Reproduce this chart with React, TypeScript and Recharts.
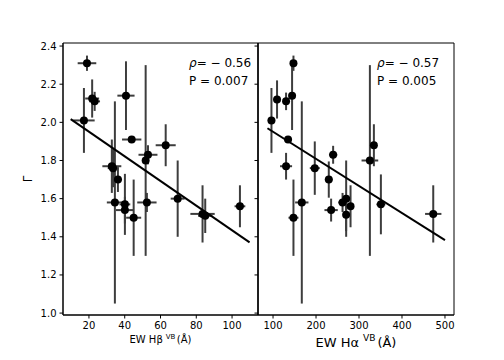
import React from 'react';
import { ScatterChart, Scatter, XAxis, YAxis, ErrorBar, ReferenceArea, Label } from 'recharts';

// left panel: EW Hβ(VB) vs photon index
const hbEw = [18.9, 21.8, 23.2, 17.2, 40.7, 43.9, 62.9, 53.0, 51.7, 32.8, 33.5, 36.2, 34.5, 40.1, 40.1, 45.0, 52.4, 69.6, 83.5, 85.0, 104.4];
const hbGamma = [2.31, 2.125, 2.11, 2.01, 2.14, 1.91, 1.88, 1.83, 1.80, 1.77, 1.76, 1.70, 1.58, 1.57, 1.54, 1.50, 1.58, 1.60, 1.52, 1.51, 1.56];
const hbEwErr = [5.2, 3.9, 3.0, 6.0, 4.8, 5.4, 5.6, 5.3, 1.5, 5.3, 3.0, 2.3, 4.5, 3.0, 5.0, 4.2, 5.4, 3.9, 6.8, 4.0, 3.0];
const hbGammaErr = [0.04, 0.1, 0.05, 0.17, 0.18, 0.0, 0.11, 0.05, 0.5, 0.14, 0.1, 0.065, 0.53, 0.16, 0.07, 0.2, 0.05, 0.2, 0.15, 0.09, 0.11];

// right panel: EW Hα(VB) vs photon index
const haEw = [147.5, 96.3, 109.3, 130.3, 144.3, 134.9, 166.9, 130.3, 147.5, 197.1, 239.8, 229.7, 325.3, 334.6, 235.1, 261.7, 270.1, 270.0, 280.3, 350.9, 472.7];
const haGamma = [2.31, 2.01, 2.12, 2.11, 2.14, 1.91, 1.58, 1.77, 1.50, 1.76, 1.83, 1.70, 1.80, 1.88, 1.54, 1.58, 1.60, 1.515, 1.56, 1.57, 1.52];
const haEwErr = [3, 8.5, 8, 7, 4, 9, 15.5, 14, 11.6, 11.6, 9.7, 9, 19.4, 7, 15.5, 10, 4, 4, 7, 10.5, 19];
const haGammaErr = [0.04, 0.17, 0.1, 0.046, 0.18, 0.0, 0.53, 0.07, 0.2, 0.14, 0.047, 0.095, 0.5, 0.11, 0.06, 0.05, 0.2, 0.085, 0.11, 0.157, 0.15];

// regression lines (end points)
const hbFitX = [9.8, 109.8];
const hbFitY = [2.017, 1.371];
const haFitX = [87, 500];
const haFitY = [1.969, 1.383];

const hbTicks = [20, 40, 60, 80, 100];
const haTicks = [100, 200, 300, 400, 500];
const gammaTicks = [1.0, 1.2, 1.4, 1.6, 1.8, 2.0, 2.2, 2.4];

const hbDomain = [5.5, 114.5];
const haDomain = [65, 521];
const gammaDomain = [0.99, 2.416];

const FONT = 'DejaVu Sans';
const ERR = '#3d3d3d';

const toPoints = (xs: number[], ys: number[], ex?: number[], ey?: number[]) =>
  xs.map((x, i) => ({ x, y: ys[i], ex: ex ? ex[i] : 0, ey: ey ? ey[i] : 0 }));

const hbData = toPoints(hbEw, hbGamma, hbEwErr, hbGammaErr);
const haData = toPoints(haEw, haGamma, haEwErr, haGammaErr);
const hbFit = toPoints(hbFitX, hbFitY);
const haFit = toPoints(haFitX, haFitY);

const dot = (p: any) => <circle cx={p.cx} cy={p.cy} r={4} fill="#000" />;
const noDot = () => <g />;

const tickStyle = { fontSize: 10, fontFamily: FONT, fill: '#000' };

const statText = (rho: string, p: string, dx: number) => (props: any) => {
  const vb = props.viewBox;
  return (
    <g fontFamily={FONT} fontSize={12} fill="#000">
      <text x={vb.x + dx} y={vb.y + 24}>
        <tspan fontStyle="italic">ρ</tspan>
        <tspan>= − {rho}</tspan>
      </text>
      <text x={vb.x + dx} y={vb.y + 42}>P = {p}</text>
    </g>
  );
};

const xLabel = (name: string, size: number, dy: number) => (props: any) => {
  const vb = props.viewBox;
  const cx = vb.x + vb.width / 2;
  return (
    <text x={cx} y={vb.y + dy} textAnchor="middle" fontFamily={FONT} fontSize={size} fill="#000">
      EW {name}
      <tspan dx={size * 0.3} dy={-size * 0.45} fontSize={size * 0.7}>VB</tspan>
      <tspan dx={size * 0.15} dy={size * 0.45}>(Å)</tspan>
    </text>
  );
};

const yLabel = (props: any) => {
  const vb = props.viewBox;
  const x = vb.x - 1;
  const y = vb.y + vb.height / 2;
  return (
    <text x={x} y={y} transform={`rotate(-90 ${x} ${y})`} textAnchor="middle" fontFamily={FONT} fontSize={12} fill="#000">
      Γ
    </text>
  );
};

const Panel = ({ data, fit, domain, ticks, left, width, margin, yWidth, showY, label, stats }: any) => (
  <div style={{ position: 'absolute', left, top: 0 }}>
    <ScatterChart width={width} height={360} margin={margin}>
      <XAxis
        dataKey="x"
        type="number"
        domain={domain}
        ticks={ticks}
        allowDataOverflow
        height={30}
        tick={tickStyle}
        tickSize={3.5}
        tickMargin={3}
        stroke="#000"
      >
        <Label content={label} />
      </XAxis>
      <YAxis
        dataKey="y"
        type="number"
        domain={gammaDomain}
        ticks={gammaTicks}
        allowDataOverflow
        width={yWidth}
        tick={tickStyle}
        tickSize={3.5}
        tickMargin={3}
        stroke="#000"
        tickFormatter={(v: number) => (showY ? v.toFixed(1) : '')}
      >
        {showY && <Label content={yLabel} />}
      </YAxis>
      <ReferenceArea
        x1={domain[0]}
        x2={domain[1]}
        y1={gammaDomain[0]}
        y2={gammaDomain[1]}
        fill="none"
        fillOpacity={0}
        stroke="#000"
        strokeWidth={1}
        ifOverflow="visible"
        label={stats}
      />
      <Scatter data={data} shape={dot} isAnimationActive={false}>
        <ErrorBar dataKey="ey" direction="y" width={0} stroke={ERR} strokeWidth={2} isAnimationActive={false} />
        <ErrorBar dataKey="ex" direction="x" width={0} stroke={ERR} strokeWidth={2} isAnimationActive={false} />
      </Scatter>
      <Scatter data={fit} shape={noDot} line={{ stroke: '#000', strokeWidth: 2 }} isAnimationActive={false} />
    </ScatterChart>
  </div>
);

export default function App() {
  return (
    <div style={{ position: 'absolute', left: 0, top: 0, width: 504, height: 360, background: '#fff' }}>
      <Panel
        data={hbData}
        fit={hbFit}
        domain={hbDomain}
        ticks={hbTicks}
        left={0}
        width={270}
        margin={{ top: 43, right: 12, left: 33, bottom: 15 }}
        yWidth={30}
        showY
        label={xLabel('Hβ', 10, 28)}
        stats={statText('0.56', '0.007', 126)}
      />
      <Panel
        data={haData}
        fit={haFit}
        domain={haDomain}
        ticks={haTicks}
        left={250}
        width={254}
        margin={{ top: 43, right: 50, left: 0, bottom: 15 }}
        yWidth={8}
        showY={false}
        label={xLabel('Hα', 13, 32)}
        stats={statText('0.57', '0.005', 119)}
      />
    </div>
  );
}
